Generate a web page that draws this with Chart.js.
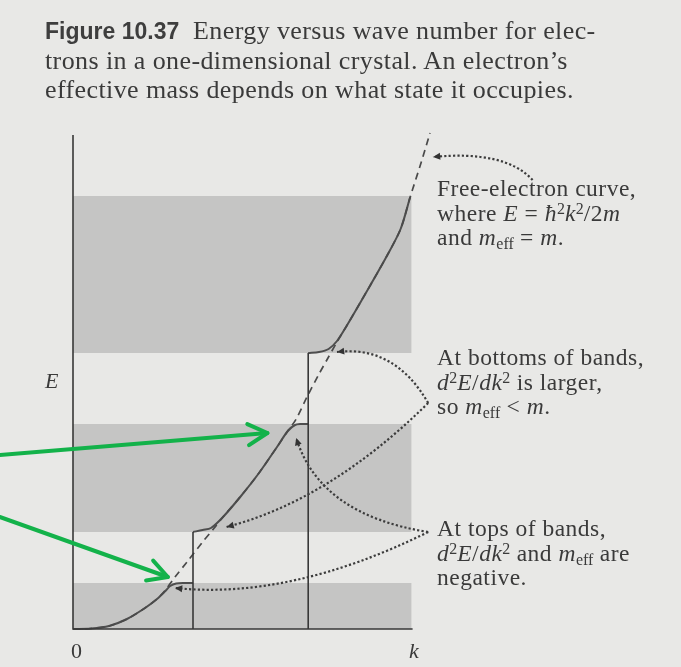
<!DOCTYPE html>
<html>
<head>
<meta charset="utf-8">
<script src="https://cdn.jsdelivr.net/npm/chart.js@4.4.1/dist/chart.umd.min.js"></script>
<style>
  html, body { margin: 0; padding: 0; background: #e8e8e6; }
  #page { position: relative; width: 681px; height: 667px; overflow: hidden; background: #e8e8e6; }
  #plot { position: absolute; left: 0; top: 0; }
  .txt { position: absolute; font-family: "Liberation Serif", "DejaVu Serif", serif; color: #3a3a3a; white-space: nowrap; }
  .cap { left: 45px; top: 16px; font-size: 26px; line-height: 29px; letter-spacing: 0.4px; }
  .cap b { font-family: "Liberation Sans", Arial, sans-serif; font-size: 23px; letter-spacing: 0; color: #3e3e3e; }
  .note { left: 437px; font-size: 23.5px; line-height: 24.5px; letter-spacing: 0.5px; }
  .lbl { font-size: 22px; line-height: 22px; }
  sub { font-size: 0.68em; vertical-align: -0.25em; line-height: 0; letter-spacing: 0; }
  sup { font-size: 0.68em; vertical-align: 0.45em; line-height: 0; letter-spacing: 0; }
</style>
</head>
<body>
<div id="page">
  <canvas id="plot" width="681" height="667"></canvas>

  <div class="txt cap"><b>Figure 10.37</b>&nbsp; Energy versus wave number for elec-<br>trons in a one-dimensional crystal. An electron’s<br>effective mass depends on what state it occupies.</div>

  <div class="txt note" style="top:176px">Free-electron curve,<br>where <i>E</i> = <i>ħ</i><sup>2</sup><i>k</i><sup>2</sup>/2<i>m</i><br>and <i>m</i><sub>eff</sub> = <i>m</i>.</div>
  <div class="txt note" style="top:345px">At bottoms of bands,<br><i>d</i><sup>2</sup><i>E</i>/<i>dk</i><sup>2</sup> is larger,<br>so <i>m</i><sub>eff</sub> &lt; <i>m</i>.</div>
  <div class="txt note" style="top:516px">At tops of bands,<br><i>d</i><sup>2</sup><i>E</i>/<i>dk</i><sup>2</sup> and <i>m</i><sub>eff</sub> are<br>negative.</div>

  <div class="txt lbl" style="left:45px; top:370px"><i>E</i></div>
  <div class="txt lbl" style="left:71px; top:640px">0</div>
  <div class="txt lbl" style="left:409px; top:640px"><i>k</i></div>
</div>

<script>
// wave number k in units of pi/a, energy E in arbitrary units

// allowed energy bands [bottom, top]
const bandEdges = [[0, 0.46], [0.97, 2.05], [2.76, 4.33]];
const bandRight = 2.82;

// zone boundaries where the gaps open, and the energy each drop line reaches
const gapK = [1.0, 1.96];
const gapTopE = [0.97, 2.76];

// axis extents
const kAxisEnd = 2.83;
const eAxisEnd = 4.94;

// E(k) inside each band
const band1K = [0, 0.15, 0.3, 0.45, 0.6, 0.7, 0.77, 0.81, 0.86, 0.93, 1.0];
const band1E = [0, 0.005, 0.03, 0.1, 0.21, 0.3, 0.38, 0.43, 0.455, 0.46, 0.46];
const band2K = [1.0, 1.08, 1.15, 1.25, 1.4, 1.55, 1.7, 1.79, 1.85, 1.9, 1.96];
const band2E = [0.97, 0.99, 1.01, 1.12, 1.33, 1.56, 1.82, 1.98, 2.04, 2.05, 2.05];
const band3K = [1.96, 2.05, 2.13, 2.2, 2.28, 2.45, 2.62, 2.73, 2.81];
const band3E = [2.76, 2.77, 2.8, 2.88, 3.03, 3.38, 3.74, 4.0, 4.32];

// free-electron parabola E = hbar^2 k^2 / 2m (runs under the band curves mid-band)
const freeK = [0, 0.15, 0.3, 0.45, 0.6, 0.7, 0.77, 0.85, 0.95, 1.08, 1.17, 1.25, 1.4, 1.55, 1.7, 1.79, 1.86, 1.95, 2.05, 2.12, 2.2, 2.28, 2.45, 2.62, 2.73, 2.81, 2.9, 2.975];
const freeE = [0, 0.005, 0.03, 0.1, 0.21, 0.3, 0.39, 0.52, 0.67, 0.87, 1.0, 1.12, 1.33, 1.56, 1.82, 1.98, 2.1, 2.32, 2.55, 2.7, 2.87, 3.03, 3.38, 3.74, 4.0, 4.32, 4.66, 4.96];

// dotted pointers from the notes: start, bend (quadratic control), end
const pointerStart = [[3.83, 4.49], [2.96, 2.26], [2.96, 2.26], [2.96, 0.97], [2.96, 0.97]];
const pointerBend  = [[3.60, 4.79], [2.68, 2.84], [2.14, 1.29], [2.06, 1.14], [1.81, 0.29]];
const pointerEnd   = [[3.00, 4.72], [2.20, 2.77], [1.28, 1.02], [1.86, 1.91], [0.85, 0.41]];

// green callout arrows
const greenFrom = [[-0.61, 1.74], [-0.61, 1.12]];
const greenTo   = [[1.62, 1.96], [0.79, 0.52]];

const pts = (ks, es) => ks.map((k, i) => ({ x: k, y: es[i] }));

function toPx(chart, p) {
    return [chart.scales.x.getPixelForValue(p[0]), chart.scales.y.getPixelForValue(p[1])];
}

function arrowHead(ctx, tip, from, len, half, filled) {
    const ang = Math.atan2(tip[1] - from[1], tip[0] - from[0]);
    const a1 = [tip[0] - len * Math.cos(ang - half), tip[1] - len * Math.sin(ang - half)];
    const a2 = [tip[0] - len * Math.cos(ang + half), tip[1] - len * Math.sin(ang + half)];
    ctx.beginPath();
    ctx.moveTo(a1[0], a1[1]);
    ctx.lineTo(tip[0], tip[1]);
    ctx.lineTo(a2[0], a2[1]);
    if (filled) { ctx.closePath(); ctx.fill(); } else { ctx.stroke(); }
}

const overlay = {
    id: 'overlay',
    beforeDatasetsDraw(chart) {
        const ctx = chart.ctx;
        ctx.save();
        ctx.fillStyle = '#c5c5c4';
        bandEdges.forEach(b => {
            const [x0, y1] = toPx(chart, [0, b[1]]);
            const [x1, y0] = toPx(chart, [bandRight, b[0]]);
            ctx.fillRect(x0, y1, x1 - x0, y0 - y1);
        });
        ctx.restore();
    },
    afterDatasetsDraw(chart) {
        const ctx = chart.ctx;
        ctx.save();
        // dotted pointers
        ctx.strokeStyle = '#3c3c3c';
        ctx.fillStyle = '#333333';
        ctx.lineWidth = 2.2;
        pointerStart.forEach((s, i) => {
            const p0 = toPx(chart, s), c = toPx(chart, pointerBend[i]), p1 = toPx(chart, pointerEnd[i]);
            ctx.setLineDash([2.2, 2.2]);
            ctx.beginPath();
            ctx.moveTo(p0[0], p0[1]);
            ctx.quadraticCurveTo(c[0], c[1], p1[0], p1[1]);
            ctx.stroke();
            ctx.setLineDash([]);
            arrowHead(ctx, p1, c, 8, 0.45, true);
        });
        // green callouts
        ctx.strokeStyle = '#13b24a';
        ctx.lineWidth = 4;
        ctx.lineCap = 'round';
        ctx.lineJoin = 'round';
        greenFrom.forEach((f, i) => {
            const a = toPx(chart, f), b = toPx(chart, greenTo[i]);
            ctx.beginPath();
            ctx.moveTo(a[0], a[1]);
            ctx.lineTo(b[0], b[1]);
            ctx.stroke();
            arrowHead(ctx, b, a, 22, 0.5, false);
        });
        ctx.restore();
    }
};

const curveStyle = {
    showLine: true, pointRadius: 0, borderColor: '#4e4e4e', borderWidth: 2,
    tension: 0.3, clip: false
};
const ruleStyle = { showLine: true, pointRadius: 0, borderColor: '#383838', borderWidth: 1.6, clip: false };

new Chart(document.getElementById('plot'), {
    type: 'scatter',
    data: {
        datasets: [
            { ...ruleStyle, data: [{ x: 0, y: eAxisEnd }, { x: 0, y: 0 }, { x: kAxisEnd, y: 0 }] },
            { ...ruleStyle, data: [{ x: gapK[0], y: 0 }, { x: gapK[0], y: gapTopE[0] }] },
            { ...ruleStyle, data: [{ x: gapK[1], y: 0 }, { x: gapK[1], y: gapTopE[1] }] },
            { ...curveStyle, borderWidth: 1.7, borderColor: '#4a4a4a', borderDash: [7, 5], data: pts(freeK, freeE) },
            { ...curveStyle, data: pts(band1K, band1E) },
            { ...curveStyle, data: pts(band2K, band2E) },
            { ...curveStyle, data: pts(band3K, band3E) }
        ]
    },
    options: {
        responsive: false,
        animation: false,
        devicePixelRatio: 1,
        layout: { padding: { left: 73, right: 236, top: 124, bottom: 38 } },
        plugins: { legend: { display: false }, tooltip: { enabled: false } },
        scales: {
            x: { type: 'linear', min: 0, max: 3.1, display: false },
            y: { type: 'linear', min: 0, max: 5.05, display: false }
        }
    },
    plugins: [overlay]
});
</script>
</body>
</html>
